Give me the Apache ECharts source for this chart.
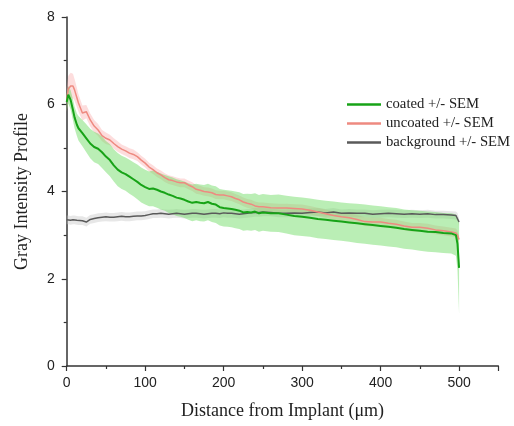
<!DOCTYPE html>
<html>
<head>
<meta charset="utf-8">
<script src="https://cdn.jsdelivr.net/npm/echarts@6/dist/echarts.min.js"></script>
<style>
html,body{margin:0;padding:0;background:#fff;}
#chart{width:514px;height:426px;}
</style>
</head>
<body>
<div id="chart"></div>
<script>
const distance = [0,2,5,8,10,13,15,20,25,30,35,40,45,50,55,60,65,70,75,80,85,90,95,100,105,110,115,120,125,130,135,140,145,150,155,160,165,170,175,180,185,190,195,200,205,210,215,220,225,230,235,240,245,250,260,270,280,290,300,310,320,330,340,350,360,370,380,390,400,410,420,430,440,450,460,470,480,490,496,498,500];

const coated = [6.05,6.22,6.1,5.87,5.7,5.53,5.45,5.34,5.22,5.1,5.02,4.98,4.9,4.8,4.72,4.6,4.5,4.44,4.4,4.34,4.28,4.22,4.15,4.1,4.06,4.07,4.04,4.0,3.97,3.93,3.9,3.86,3.84,3.81,3.77,3.74,3.76,3.74,3.73,3.76,3.72,3.7,3.64,3.62,3.61,3.6,3.58,3.56,3.52,3.53,3.52,3.54,3.5,3.52,3.5,3.5,3.47,3.44,3.42,3.4,3.37,3.35,3.33,3.31,3.29,3.27,3.25,3.23,3.21,3.19,3.17,3.14,3.12,3.1,3.08,3.07,3.05,3.04,3.0,2.8,2.25];
const coatedSEM = [0.2,0.2,0.22,0.24,0.25,0.26,0.28,0.3,0.32,0.34,0.35,0.35,0.36,0.36,0.37,0.37,0.38,0.38,0.38,0.39,0.39,0.4,0.4,0.4,0.4,0.41,0.41,0.41,0.41,0.42,0.42,0.42,0.42,0.42,0.42,0.42,0.42,0.42,0.42,0.42,0.42,0.42,0.42,0.42,0.42,0.42,0.42,0.42,0.42,0.42,0.42,0.42,0.42,0.42,0.42,0.43,0.43,0.44,0.44,0.44,0.44,0.44,0.44,0.44,0.44,0.45,0.45,0.45,0.45,0.45,0.45,0.45,0.45,0.46,0.46,0.46,0.46,0.46,0.47,0.6,1.05];

const uncoated = [6.1,6.35,6.42,6.42,6.33,6.15,6.03,5.8,5.83,5.64,5.5,5.41,5.28,5.22,5.18,5.1,5.03,4.97,4.93,4.88,4.85,4.8,4.72,4.65,4.56,4.5,4.43,4.38,4.32,4.27,4.25,4.22,4.2,4.2,4.15,4.11,4.05,4.03,4.0,3.99,3.97,3.93,3.92,3.92,3.9,3.88,3.84,3.81,3.76,3.73,3.71,3.67,3.65,3.65,3.63,3.62,3.62,3.61,3.6,3.57,3.53,3.49,3.45,3.42,3.4,3.36,3.31,3.3,3.3,3.27,3.25,3.21,3.18,3.18,3.16,3.12,3.1,3.07,3.05,3.0,2.9];
const uncoatedSEM = [0.28,0.3,0.3,0.28,0.25,0.22,0.2,0.17,0.15,0.15,0.14,0.14,0.13,0.13,0.12,0.12,0.12,0.11,0.11,0.11,0.11,0.1,0.1,0.1,0.1,0.1,0.1,0.1,0.1,0.1,0.1,0.1,0.1,0.1,0.1,0.1,0.1,0.1,0.1,0.1,0.1,0.1,0.1,0.1,0.1,0.1,0.1,0.1,0.1,0.1,0.1,0.1,0.1,0.1,0.1,0.1,0.1,0.1,0.1,0.1,0.1,0.1,0.1,0.1,0.1,0.1,0.1,0.1,0.1,0.1,0.1,0.1,0.1,0.1,0.1,0.1,0.1,0.1,0.1,0.1,0.1];

const background = [3.35,3.35,3.34,3.35,3.35,3.34,3.33,3.33,3.3,3.36,3.38,3.4,3.41,3.42,3.41,3.41,3.42,3.43,3.42,3.42,3.43,3.44,3.44,3.45,3.47,3.49,3.49,3.5,3.49,3.48,3.49,3.5,3.49,3.48,3.49,3.5,3.5,3.49,3.48,3.49,3.5,3.5,3.49,3.51,3.5,3.5,3.49,3.48,3.49,3.5,3.51,3.52,3.52,3.53,3.52,3.5,3.5,3.51,3.5,3.52,3.53,3.51,3.53,3.5,3.51,3.5,3.5,3.48,3.49,3.5,3.49,3.48,3.49,3.48,3.49,3.47,3.47,3.46,3.45,3.42,3.3];
const backgroundSEM = [0.1,0.1,0.1,0.1,0.1,0.1,0.1,0.1,0.1,0.1,0.1,0.1,0.1,0.1,0.1,0.1,0.1,0.1,0.1,0.1,0.1,0.1,0.1,0.1,0.1,0.1,0.1,0.1,0.1,0.1,0.1,0.1,0.1,0.1,0.1,0.1,0.1,0.1,0.1,0.1,0.1,0.1,0.1,0.1,0.1,0.1,0.1,0.1,0.1,0.1,0.1,0.1,0.1,0.1,0.09,0.09,0.09,0.09,0.09,0.09,0.09,0.09,0.09,0.09,0.09,0.09,0.09,0.09,0.09,0.09,0.09,0.09,0.09,0.09,0.09,0.09,0.09,0.09,0.09,0.09,0.09];

const xTicks = [0,100,200,300,400,500];
const yTicks = [0,2,4,6,8];
const names = ['coated +/- SEM','uncoated +/- SEM','background +/- SEM'];

function pairs(vals){ return distance.map((x,i)=>[x, vals[i]]); }
function bandData(vals, sem){ return distance.map((x,i)=>[x, vals[i]-sem[i], vals[i]+sem[i]]); }

function band(id, vals, sem, color){
  const d = bandData(vals, sem);
  return {
    type:'custom', name:id, data:d, silent:true, z:1, clip:true,
    encode:{x:0, y:[1,2]},
    renderItem:function(params, api){
      if (params.dataIndex !== 0) return null;
      const upper = d.map(p=>api.coord([p[0], p[2]]));
      const lowerPts = d.map(p=>api.coord([p[0], p[1]])).reverse();
      return {type:'polygon', shape:{points:upper.concat(lowerPts)}, style:{fill:color}, silent:true};
    }
  };
}

const chart = echarts.init(document.getElementById('chart'), null, {renderer:'canvas'});
const axisCol = '#333';
chart.setOption({
  animation:false,
  backgroundColor:'#fff',
  grid:{left:66.7, right:15.7, top:17, bottom:60, containLabel:false},
  legend:{
    data:names.map(n=>({name:n, icon:'rect'})),
    orient:'vertical', left:342, top:92, itemWidth:34, itemHeight:2.5, itemGap:4,
    textStyle:{fontFamily:'Liberation Serif', fontSize:14.7, color:'#222'}
  },
  xAxis:{
    type:'value', min:0, max:550, interval:100,
    name:'Distance from Implant (\u03bcm)', nameLocation:'middle', nameGap:36,
    nameTextStyle:{fontFamily:'Liberation Serif', fontSize:18, color:'#222'},
    axisLine:{show:true, lineStyle:{color:axisCol, width:1.5}},
    axisTick:{show:true, length:5, lineStyle:{color:axisCol, width:1.2}},
    minorTick:{show:true, splitNumber:2, length:3, lineStyle:{color:axisCol, width:1.2}},
    axisLabel:{fontFamily:'Liberation Sans', fontSize:14, color:'#222', margin:10, showMaxLabel:false,
      formatter:v=> xTicks.includes(v) ? String(v) : ''},
    splitLine:{show:false}
  },
  yAxis:{
    type:'value', min:0, max:8, interval:2,
    name:'Gray Intensity Profile', nameLocation:'middle', nameGap:35,
    nameTextStyle:{fontFamily:'Liberation Serif', fontSize:18, color:'#222'},
    axisLine:{show:true, lineStyle:{color:axisCol, width:1.5}},
    axisTick:{show:true, length:5, lineStyle:{color:axisCol, width:1.2}},
    minorTick:{show:true, splitNumber:2, length:3, lineStyle:{color:axisCol, width:1.2}},
    axisLabel:{fontFamily:'Liberation Sans', fontSize:14, color:'#222', margin:12,
      formatter:v=> yTicks.includes(v) ? String(v) : ''},
    splitLine:{show:false}
  },
  series:[
    band('bg', background, backgroundSEM, 'rgba(195,195,195,0.4)'),
    band('un', uncoated, uncoatedSEM, 'rgba(250,170,170,0.4)'),
    band('co', coated, coatedSEM, 'rgba(110,220,100,0.48)'),
    {type:'line', name:names[2], data:pairs(background), showSymbol:false, symbol:'none',
     lineStyle:{color:'#5a5a5a', width:1.5}, itemStyle:{color:'#5a5a5a'}, z:3},
    {type:'line', name:names[1], data:pairs(uncoated), showSymbol:false, symbol:'none',
     lineStyle:{color:'#ee8a80', width:1.5}, itemStyle:{color:'#ee8a80'}, z:3},
    {type:'line', name:names[0], data:pairs(coated), showSymbol:false, symbol:'none',
     lineStyle:{color:'#17a317', width:2}, itemStyle:{color:'#17a317'}, z:4}
  ]
});
</script>
</body>
</html>
